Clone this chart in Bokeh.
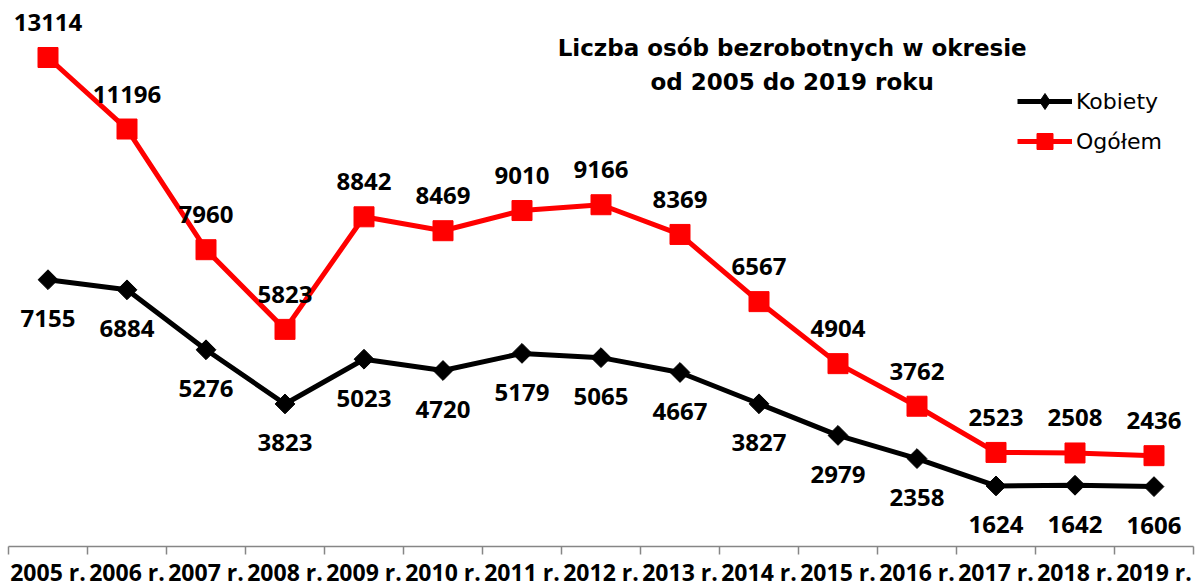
from bokeh.plotting import figure
from bokeh.models import (FixedTicker, Legend, LegendItem, LabelSet, ColumnDataSource,
                          Label, Range1d)
from bokeh.core.properties import value
from bokeh.embed import file_html
from bokeh.resources import INLINE

years = ["2005 r.", "2006 r.", "2007 r.", "2008 r.", "2009 r.", "2010 r.", "2011 r.",
         "2012 r.", "2013 r.", "2014 r.", "2015 r.", "2016 r.", "2017 r.", "2018 r.", "2019 r."]
kobiety = [7155, 6884, 5276, 3823, 5023, 4720, 5179, 5065, 4667, 3827, 2979, 2358, 1624, 1642, 1606]
ogolem = [13114, 11196, 7960, 5823, 8842, 8469, 9010, 9166, 8369, 6567, 4904, 3762, 2523, 2508, 2436]
title_lines = ["Liczba osób bezrobotnych w okresie", "od 2005 do 2019 roku"]

FONT = "Open Sans"
FONT2 = "DejaVu Sans"
x = list(range(len(years)))
nan = float("nan")

p = figure(frame_width=1185, frame_height=546, width=1200, height=587,
           x_range=Range1d(-0.5, len(years) - 0.5), y_range=Range1d(0, 14643),
           output_backend="svg", toolbar_location=None, y_axis_location=None,
           min_border_left=8, min_border_right=7, min_border_top=0, min_border_bottom=0,
           outline_line_color=None, background_fill_color="white")
p.xgrid.visible = False
p.ygrid.visible = False

ax = p.xaxis[0]
ax.ticker = FixedTicker(ticks=x, minor_ticks=[i - 0.5 for i in range(len(years) + 1)])
ax.major_label_overrides = {i: years[i] for i in x}
ax.major_tick_line_color = None
ax.major_tick_out = 0
ax.major_tick_in = 0
ax.minor_tick_out = 8
ax.minor_tick_in = 0
ax.minor_tick_line_color = "#868686"
ax.minor_tick_line_width = 1.5
ax.axis_line_color = "#868686"
ax.axis_line_width = 1.5
ax.major_label_standoff = 1
ax.major_label_text_font = FONT
ax.major_label_text_font_style = "bold"
ax.major_label_text_font_size = "23px"
ax.major_label_text_color = "black"

l_og = p.line(x, ogolem, line_color="#FF0000", line_width=5)
m_og = p.scatter(x, ogolem, marker="square", size=20, fill_color="#FF0000", line_color="#FF0000")
l_kb = p.line(x, kobiety, line_color="black", line_width=5)
m_kb = p.scatter(x, kobiety, marker="square", angle=0.785398, size=14,
                 fill_color="black", line_color="black")

# legend-only glyphs (not drawn in the plot)
lg_og = p.scatter(x=[nan], y=[nan], marker="square", size=16,
                  fill_color="#FF0000", line_color="#FF0000")
lg_kb = p.scatter(x=[nan], y=[nan], marker="diamond", size=15,
                  fill_color="black", line_color="black")

src_og = ColumnDataSource(dict(x=x, y=ogolem, t=[str(v) for v in ogolem]))
src_kb = ColumnDataSource(dict(x=x, y=kobiety, t=[str(v) for v in kobiety]))
for src, off in ((src_og, 35), (src_kb, -39)):
    p.add_layout(LabelSet(x="x", y="y", text="t", source=src, y_offset=off,
                          text_align="center", text_baseline="middle",
                          text_font=value(FONT), text_font_style="bold",
                          text_font_size="24px", text_color="black"))

for t, yy in zip(title_lines, [13358, 12446]):
    p.add_layout(Label(x=9.42, y=yy, text=t, text_align="center", text_baseline="middle",
                       text_font=FONT2, text_font_style="bold", text_font_size="23px",
                       text_color="black"))

legend = Legend(items=[LegendItem(label="Kobiety", renderers=[l_kb, lg_kb]),
                       LegendItem(label="Ogółem", renderers=[l_og, lg_og])],
                location=(1009, 385), orientation="vertical",
                glyph_width=55, glyph_height=40, label_height=40, label_standoff=4,
                spacing=0, padding=0, margin=0, border_line_color=None,
                background_fill_alpha=0, label_text_font=FONT2,
                label_text_font_size="22px", label_text_color="black")
p.add_layout(legend)

open("out.html", "w").write(file_html(p, INLINE))
